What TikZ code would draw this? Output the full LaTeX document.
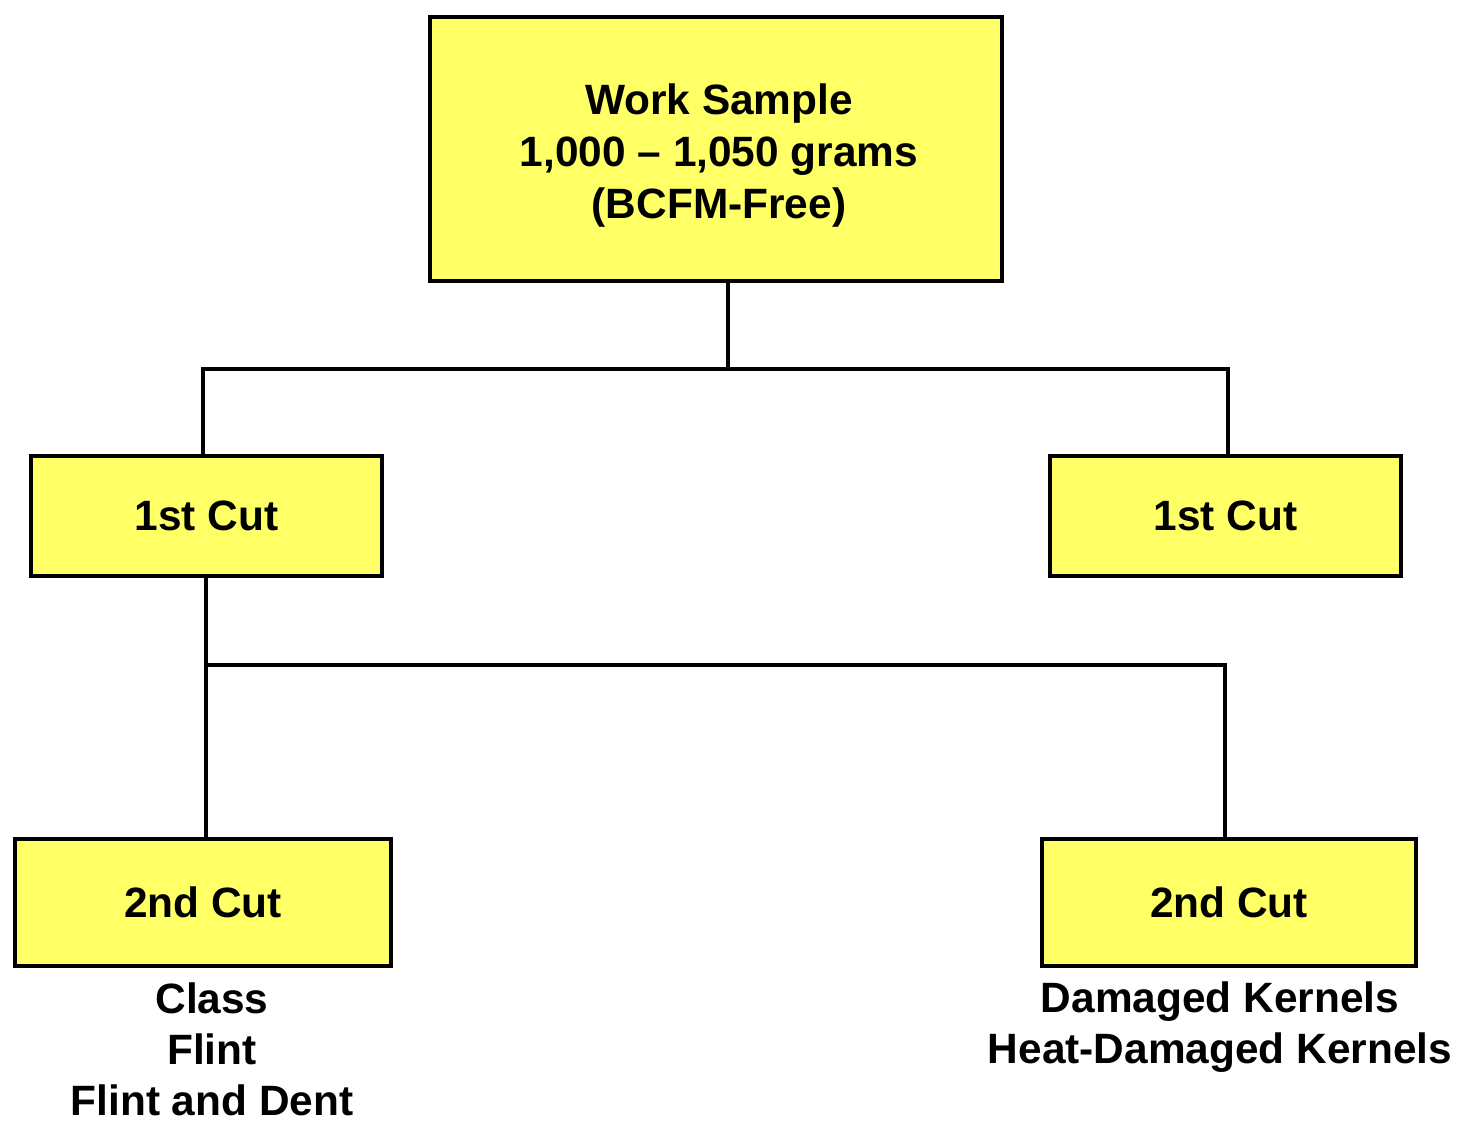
\documentclass[tikz,border=0pt]{standalone}
\usepackage{fontspec}
\setmainfont{Liberation Sans}
\definecolor{boxyellow}{HTML}{FFFF66}
\begin{document}
\begin{tikzpicture}[x=0.5pt,y=-0.5pt,
  box/.style={draw=black, fill=boxyellow, line width=2.2pt, rectangle, inner sep=0pt, font=\fontsize{21.2}{26}\selectfont\bfseries},
  lbl/.style={align=center, inner sep=0pt, font=\fontsize{21.2}{25.5}\selectfont\bfseries},
  conn/.style={draw=black, line width=2pt}]
\useasboundingbox (0,0) rectangle (1457,1121);
\fill[white] (0,0) rectangle (1457,1121);
% boxes
\node[box, minimum width=286pt, minimum height=132pt] (top) at (716,149) {};
\node[lbl, font=\fontsize{21.2}{26}\selectfont\bfseries] (toptext) at (719,156) {Work Sample\\1,000 – 1,050 grams\\(BCFM-Free)};
\node[box, minimum width=175.5pt, minimum height=60pt] (c1l) at (206.5,516) {1st Cut};
\node[box, minimum width=175.5pt, minimum height=60pt] (c1r) at (1225.5,516) {1st Cut};
\node[box, minimum width=188pt, minimum height=63.5pt] (c2l) at (203,902.5) {2nd Cut};
\node[box, minimum width=187pt, minimum height=63.5pt] (c2r) at (1229,902.5) {2nd Cut};
% labels
\node[lbl] (labl) at (212,1049) {Class\\Flint\\Flint and Dent};
\node[lbl] (labr) at (1220,1027) {Damaged Kernels\\Heat-Damaged Kernels};
% connectors
\coordinate (j1) at (728,369);
\coordinate (j2) at (206,665);
\draw[conn] (top.south -| j1) -- (j1);
\draw[conn] ([xshift=-1.75pt]c1l.north) |- (j1) -| ([xshift=1.25pt]c1r.north);
\draw[conn] (c1l.south -| j2) -- (c2l.north -| j2);
\draw[conn] (j2) -| ([xshift=-2pt]c2r.north);
\end{tikzpicture}
\end{document}
